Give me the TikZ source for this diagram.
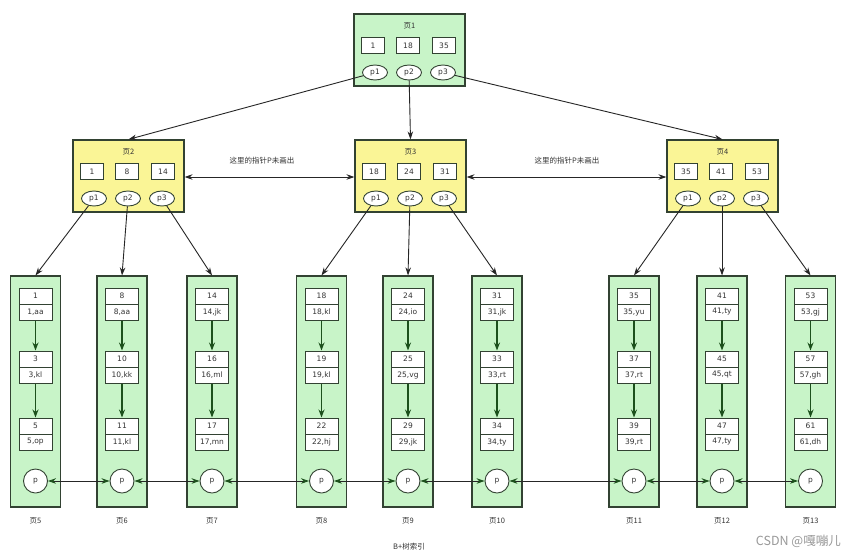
\documentclass[tikz,border=0pt]{standalone}
\usepackage{fontspec}
\setmainfont{DejaVu Sans}
\newfontfamily\cjk{Noto Sans CJK SC}
\usetikzlibrary{arrows.meta,shapes.geometric}
\definecolor{leafgreen}{RGB}{200,244,200}
\definecolor{pageyellow}{RGB}{250,245,150}
\definecolor{edgecol}{RGB}{50,66,50}
\definecolor{dgreen}{RGB}{28,80,28}
\tikzset{
  pagebox/.style={draw=edgecol, line width=1.2pt, minimum width=111pt, minimum height=72pt, inner sep=0pt},
  titletext/.style={font=\cjk\fontsize{7.5}{9}\selectfont, inner sep=0pt, text=black!80},
  keybox/.style={draw=edgecol, fill=white, line width=1pt, minimum width=23pt, minimum height=16pt, inner sep=0pt, font=\fontsize{7.5}{9}\selectfont, text=black!80},
  ptr/.style={ellipse, draw=edgecol, fill=white, line width=0.9pt, minimum width=25pt, minimum height=15pt, inner sep=0pt, font=\fontsize{7.5}{9}\selectfont, text=black!80},
  leafbox/.style={draw=edgecol, fill=leafgreen, line width=1.1pt, minimum width=50pt, minimum height=231pt, inner sep=0pt},
  recbox/.style={draw=edgecol, fill=white, line width=1pt, minimum width=33pt, minimum height=16pt, inner sep=0pt, font=\fontsize{7.5}{9}\selectfont, text=black!80},
  pcirc/.style={circle, draw=edgecol, fill=white, line width=0.9pt, minimum size=24pt, inner sep=0pt, font=\fontsize{7.5}{9}\selectfont, text=black!80},
  downarrow/.style={draw=dgreen, line width=1.3pt, -{Stealth[length=8pt,width=6pt]}},
  ptrline/.style={draw=black!85, line width=0.9pt, -{Stealth[length=8pt,width=5.5pt]}},
  dblline/.style={draw=black!85, line width=0.9pt, {Stealth[length=8pt,width=5.5pt,color=dgreen]}-{Stealth[length=8pt,width=5.5pt,color=dgreen]}},
  dbltop/.style={draw=black!85, line width=0.9pt, {Stealth[length=8pt,width=5.5pt]}-{Stealth[length=8pt,width=5.5pt]}},
  labeltext/.style={font=\cjk\fontsize{7.5}{9}\selectfont, inner sep=0pt, text=black!80}
}
\newcommand\intpage[8]{%
  \node[pagebox, fill=#4] (#1) at ({#2+55.5},{#3+36}) {};
  \node[titletext] (#1t) at ({#2+55.5},{#3+12}) {#5};
  \node[keybox] (#1k1) at ({#2+19},{#3+31.5}) {#6};
  \node[keybox] (#1k2) at ({#2+54},{#3+31.5}) {#7};
  \node[keybox] (#1k3) at ({#2+90},{#3+31.5}) {#8};
  \node[ptr] (#1p1) at ({#2+21},{#3+58.5}) {p1};
  \node[ptr] (#1p2) at ({#2+55},{#3+58.5}) {p2};
  \node[ptr] (#1p3) at ({#2+89},{#3+58.5}) {p3};
}
\newcommand\leafpage[9]{%
  \node[leafbox] (#1) at (#2,391.5) {};
  \node[recbox] (#1a1) at (#2,296) {#4};
  \node[recbox] (#1b1) at (#2,312) {#5};
  \node[recbox] (#1a2) at (#2,359) {#6};
  \node[recbox] (#1b2) at (#2,375) {#7};
  \node[recbox] (#1a3) at (#2,426) {#8};
  \node[recbox] (#1b3) at (#2,442) {#9};
  \draw[downarrow] (#1b1) -- (#1a2);
  \draw[downarrow] (#1b2) -- (#1a3);
  \node[pcirc] (#1p) at (#2,481) {p};
  \node[labeltext] (#1l) at (#2,521) {#3};
}
\begin{document}
\begin{tikzpicture}[x=1pt,y=-1pt]
\useasboundingbox[fill=white] (0,0) rectangle (856,558);
% internal pages
\intpage{pa}{354}{14}{leafgreen}{页1}{1}{18}{35}
\intpage{pb}{73}{140}{pageyellow}{页2}{1}{8}{14}
\intpage{pc}{355}{140}{pageyellow}{页3}{18}{24}{31}
\intpage{pd}{667}{140}{pageyellow}{页4}{35}{41}{53}
% leaf pages
\leafpage{l5}{35.5}{页5}{1}{1,aa}{3}{3,kl}{5}{5,op}
\leafpage{l6}{122}{页6}{8}{8,aa}{10}{10,kk}{11}{11,kl}
\leafpage{l7}{212}{页7}{14}{14,jk}{16}{16,ml}{17}{17,mn}
\leafpage{l8}{321.5}{页8}{18}{18,kl}{19}{19,kl}{22}{22,hj}
\leafpage{l9}{408}{页9}{24}{24,io}{25}{25,vg}{29}{29,jk}
\leafpage{l10}{497}{页10}{31}{31,jk}{33}{33,rt}{34}{34,ty}
\leafpage{l11}{634}{页11}{35}{35,yu}{37}{37,rt}{39}{39,rt}
\leafpage{l12}{722}{页12}{41}{41,ty}{45}{45,qt}{47}{47,ty}
\leafpage{l13}{810.5}{页13}{53}{53,gj}{57}{57,gh}{61}{61,dh}
% root pointers
\draw[ptrline] (pap1) -- (pb.north);
\draw[ptrline] (pap2) -- (pc.north);
\draw[ptrline] (pap3) -- (pd.north);
% internal pointers
\draw[ptrline] (pbp1) -- (l5.north);
\draw[ptrline] (pbp2) -- (l6.north);
\draw[ptrline] (pbp3) -- (l7.north);
\draw[ptrline] (pcp1) -- (l8.north);
\draw[ptrline] (pcp2) -- (l9.north);
\draw[ptrline] (pcp3) -- (l10.north);
\draw[ptrline] (pdp1) -- (l11.north);
\draw[ptrline] (pdp2) -- (l12.north);
\draw[ptrline] (pdp3) -- (l13.north);
% sibling links between internal pages
\draw[dbltop] (pb.east |- 0,177) -- (pc.west |- 0,177);
\draw[dbltop] (pc.east |- 0,177) -- (pd.west |- 0,177);
\node[labeltext] (n1) at (262,161) {这里的指针P未画出};
\node[labeltext] (n2) at (567,161) {这里的指针P未画出};
% leaf links
\draw[dblline] (l5p) -- (l6p);
\draw[dblline] (l6p) -- (l7p);
\draw[dblline] (l7p) -- (l8p);
\draw[dblline] (l8p) -- (l9p);
\draw[dblline] (l9p) -- (l10p);
\draw[dblline] (l10p) -- (l11p);
\draw[dblline] (l11p) -- (l12p);
\draw[dblline] (l12p) -- (l13p);
% caption
\node[labeltext] (cap) at (409,547) {B+树索引};
\node[font=\cjk\fontsize{12.5}{14}\selectfont, text=black!40, anchor=east, inner sep=0pt] (wm) at (841,541) {CSDN @嘎嘣儿};
\end{tikzpicture}
\end{document}
